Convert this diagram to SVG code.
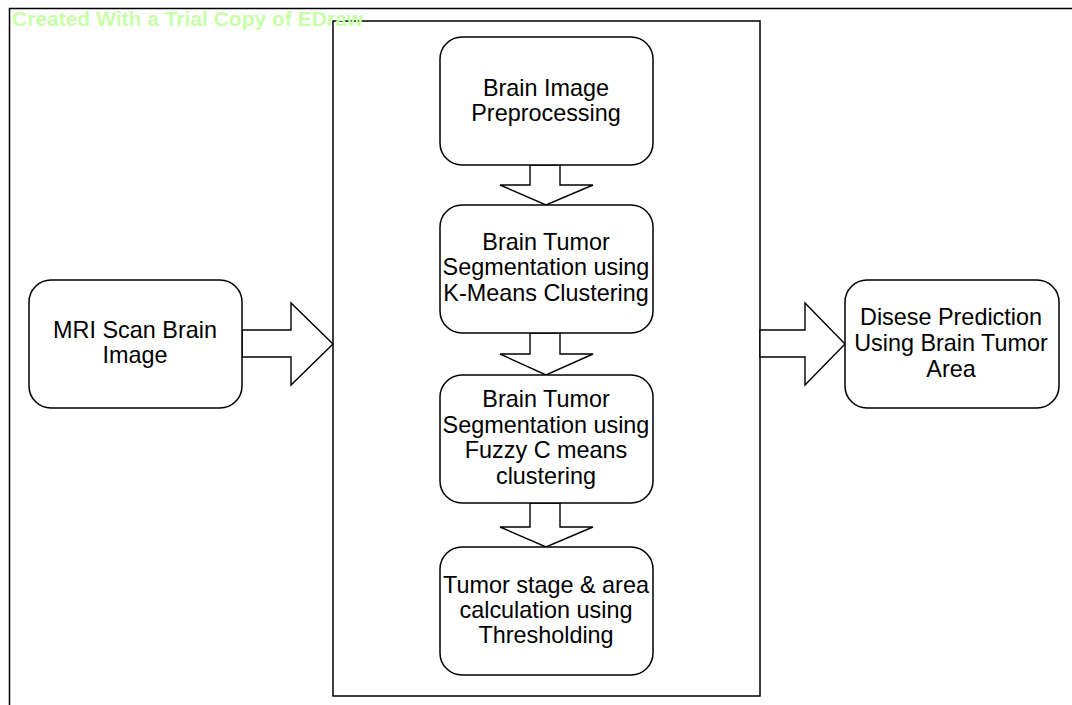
<svg xmlns="http://www.w3.org/2000/svg" width="1072" height="705" viewBox="0 0 1072 705">
<style>
.box{fill:#fff;stroke:#000;stroke-width:1.5}
.frame{fill:none;stroke:#000;stroke-width:1.5}
.arr{fill:#fff;stroke:#000;stroke-width:1.4;stroke-linejoin:miter}
text{font-family:"Liberation Sans",Arial,sans-serif;font-size:23.4px;fill:#000;text-anchor:middle}
.wm{font-weight:bold;fill:#c8ffa8;text-anchor:start;font-size:21px}
</style>
<rect width="1072" height="705" fill="#fff"/>
<g id="frame">
<path class="frame" d="M9.5,705 V8.5 H1072"/>
<rect id="container" class="frame" x="333" y="21" width="427" height="675"/>
</g>
<g id="connectors">
<path class="arr" d="M242,330 H291 V303 L333,344 L291,385 V357 H242 Z"/>
<path class="arr" d="M760,330 H805 V303 L845,344 L805,385 V357 H760 Z"/>
<path class="arr" d="M530,165 V185 H500 L546,205 L593,185 H560 V165 Z"/>
<path class="arr" d="M530,333 V354 H500 L546,375 L593,354 H560 V333 Z"/>
<path class="arr" d="M530,503 V527 H500 L546,547 L593,527 H560 V503 Z"/>
</g>
<g id="mri">
<rect class="box" x="29" y="280" width="213" height="128" rx="22"/>
<text x="135" y="338">MRI Scan Brain</text>
<text x="135" y="363">Image</text>
</g>
<g id="preprocess">
<rect class="box" x="440" y="37" width="213" height="128" rx="22"/>
<text x="546" y="96">Brain Image</text>
<text x="546" y="121">Preprocessing</text>
</g>
<g id="kmeans">
<rect class="box" x="440" y="205" width="213" height="128" rx="22"/>
<text x="546" y="249.5">Brain Tumor</text>
<text x="546" y="275">Segmentation using</text>
<text x="546" y="300.5">K-Means Clustering</text>
</g>
<g id="fcm">
<rect class="box" x="440" y="375" width="213" height="128" rx="22"/>
<text x="546" y="407">Brain Tumor</text>
<text x="546" y="433">Segmentation using</text>
<text x="546" y="458">Fuzzy C means</text>
<text x="546" y="484">clustering</text>
</g>
<g id="threshold">
<rect class="box" x="440" y="547" width="213" height="128" rx="22"/>
<text x="546" y="593">Tumor stage &amp; area</text>
<text x="546" y="618">calculation using</text>
<text x="546" y="643">Thresholding</text>
</g>
<g id="prediction">
<rect class="box" x="845" y="280" width="214" height="128" rx="22"/>
<text x="951" y="325">Disese Prediction</text>
<text x="951" y="351">Using Brain Tumor</text>
<text x="951" y="377">Area</text>
</g>
<text class="wm" x="12" y="26">Created With a Trial Copy of EDraw</text>
</svg>
